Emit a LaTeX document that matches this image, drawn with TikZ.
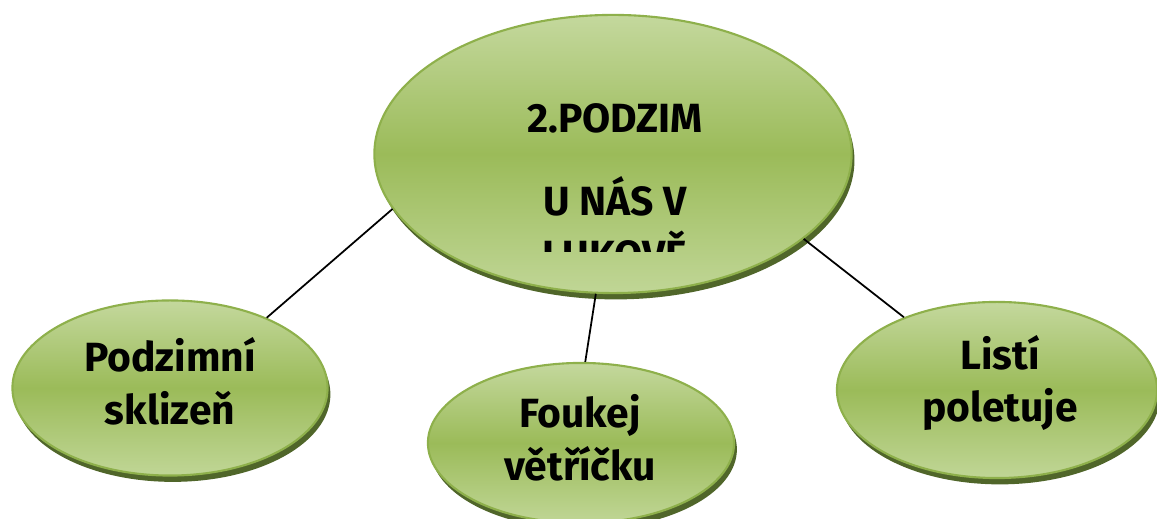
\documentclass[tikz,border=0pt]{standalone}
\usepackage{fontspec}
\setmainfont{Fira Sans}
\usetikzlibrary{shapes.geometric,shadows}
\definecolor{leafTop}{HTML}{C4D89D}
\definecolor{leafMid}{HTML}{9BBB59}
\definecolor{leafBot}{HTML}{C0D696}
\definecolor{leafEdge}{HTML}{8EB04B}
\definecolor{leafShadow}{HTML}{50662A}

\begin{document}
\begin{tikzpicture}[x=0.01cm,y=-0.01cm]
\tikzstyle{every node}+=[inner sep=0pt]
\tikzstyle{bubble}=[ellipse, draw=leafEdge, line width=0.6pt,
  top color=leafTop, bottom color=leafBot, middle color=leafMid,
  drop shadow={shadow xshift=0.8pt, shadow yshift=-1.8pt, fill=leafShadow, opacity=1}]
\tikzstyle{words}=[font=\fontsize{11.6}{15}\selectfont\bfseries, align=center]
\tikzstyle{link}=[black, line width=0.5pt]
\clip (0,0) rectangle (1157,519);
% the four bubbles
\node [bubble, minimum width=4.77cm, minimum height=2.78cm] (autumn) at (613,154) {};
\node [bubble, minimum width=3.15cm, minimum height=1.75cm] (harvest) at (170,388) {};
\node [bubble, minimum width=3.06cm, minimum height=1.6cm] (wind) at (581,443) {};
\node [bubble, minimum width=3.2cm, minimum height=1.76cm] (leaves) at (997,390) {};
% their texts
\node [words] (harvestText) at (170,381) {Podzimní\\sklizeň};
\node [words] (windText) at (580,438) {Foukej\\větříčku};
\node [words] (leavesText) at (1000,383) {Listí\\poletuje};
% title, cut off at the bottom of its box
\begin{scope}
\clip (380,60) rectangle (850,252);
\node [words, font=\fontsize{11.6}{15.4}\selectfont\bfseries] (title) at (615,187)
  {2.PODZIM\\[8.2pt]U NÁS V\\LUKOVĚ};
\end{scope}
% connectors
\draw [link] (autumn.194.8) -- (harvest.36.5);
\draw [link] (autumn.263.4) -- (wind.87);
\draw [link] (autumn.336.9) -- (leaves.142.7);
\end{tikzpicture}
\end{document}
